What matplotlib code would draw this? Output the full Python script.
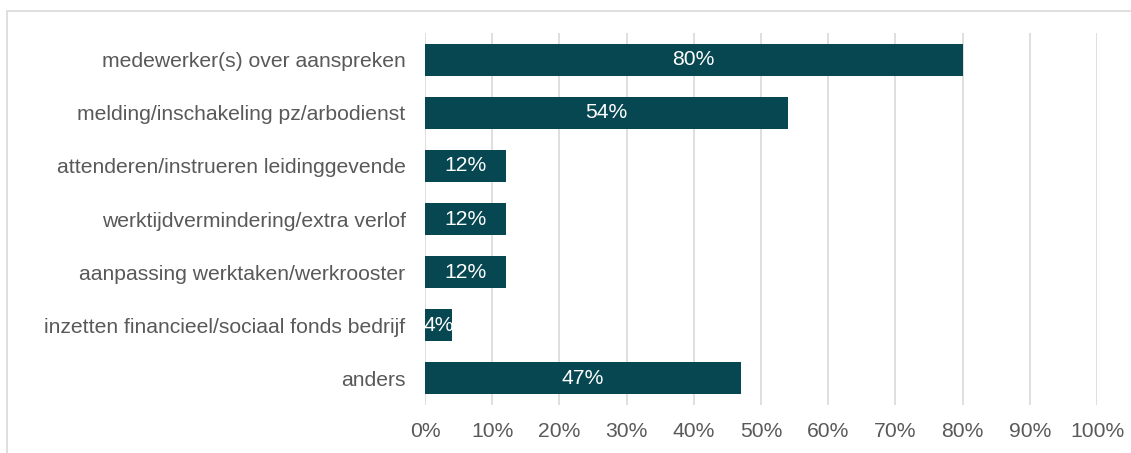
import matplotlib
matplotlib.use("Agg")
import matplotlib.pyplot as plt
from matplotlib.patches import Rectangle

categories = [
    "medewerker(s) over aanspreken",
    "melding/inschakeling pz/arbodienst",
    "attenderen/instrueren leidinggevende",
    "werktijdvermindering/extra verlof",
    "aanpassing werktaken/werkrooster",
    "inzetten financieel/sociaal fonds bedrijf",
    "anders",
]
values = [80, 54, 12, 12, 12, 4, 47]
value_labels = ["80%", "54%", "12%", "12%", "12%", "4%", "47%"]
ticks = [0, 10, 20, 30, 40, 50, 60, 70, 80, 90, 100]
tick_labels = [f"{t}%" for t in ticks]

bar_color = "#064751"
text_color = "#595959"
grid_color = "#d9d9d9"
font_size = 15.2

plt.rcParams["font.family"] = ["Liberation Sans", "DejaVu Sans"]

fig = plt.figure(figsize=(11.31, 4.53), dpi=100)
fig.patches.append(Rectangle((7 / 1131, -0.1), 1.2, (453 - 11) / 453 + 0.1,
                             transform=fig.transFigure, fill=False,
                             edgecolor=grid_color, linewidth=1.2))
ax = fig.add_axes([425 / 1131, 1 - 405 / 453, (1097 - 425) / 1131, (405 - 33) / 453])

y = list(range(len(categories)))
ax.barh(y, values, height=0.6, color=bar_color, zorder=3)
for yi, v, lab in zip(y, values, value_labels):
    ax.text(v / 2, yi, lab, ha="center", va="center", color="white",
            fontsize=font_size, zorder=4)

ax.set_xlim(0, 100)
ax.set_ylim(len(categories) - 0.5, -0.5)
ax.set_xticks(ticks)
ax.set_xticklabels(tick_labels)
ax.set_yticks(y)
ax.set_yticklabels(categories)
ax.tick_params(axis="both", length=0, labelsize=font_size, labelcolor=text_color)
ax.tick_params(axis="x", pad=12)
ax.tick_params(axis="y", pad=14)
ax.grid(axis="x", color=grid_color, linewidth=1.2, zorder=0)
for s in ax.spines.values():
    s.set_visible(False)

fig.savefig("out.png", dpi=100)
